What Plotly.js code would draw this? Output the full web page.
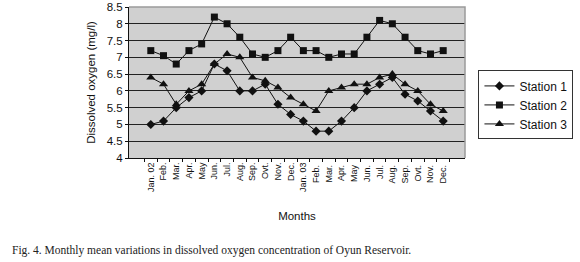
<!DOCTYPE html>
<html>
<head>
<meta charset="utf-8">
<script src="https://cdn.plot.ly/plotly-3.0.1.min.js"></script>
<style>html,body{margin:0;padding:0;background:#fff;}#chart{width:580px;height:262px;}</style>
</head>
<body>
<div id="chart"></div>
<script>
const months = ["Jan. 02","Feb.","Mar.","Apr.","May","Jun.","Jul.","Aug.","Sep.","Ovt.","Nov.","Dec.",
                "Jan. 03","Feb. ","Mar. ","Apr. ","May ","Jun. ","Jul. ","Aug. ","Sep. ","Ovt. ","Nov. ","Dec. "];
const station1 = [5.0,5.1,5.5,5.8,6.0,6.8,6.6,6.0,6.0,6.2,5.6,5.3,5.1,4.8,4.8,5.1,5.5,6.0,6.2,6.4,5.9,5.7,5.4,5.1];
const station2 = [7.2,7.05,6.8,7.2,7.4,8.2,8.0,7.6,7.1,7.0,7.2,7.6,7.2,7.2,7.0,7.1,7.1,7.6,8.1,8.0,7.6,7.2,7.1,7.2];
const station3 = [6.4,6.2,5.6,6.0,6.2,6.8,7.1,7.0,6.4,6.3,6.1,5.8,5.6,5.4,6.0,6.1,6.2,6.2,6.4,6.5,6.2,6.0,5.6,5.4];
const seriesNames = ["Station 1","Station 2","Station 3"];
const yTicks = [4,4.5,5,5.5,6,6.5,7,7.5,8,8.5];

const symbols = ["diamond","square","triangle-up"];
const sizes = [7,7,8];
const data = [station1, station2, station3].map((vals, i) => ({
  type: "scatter",
  mode: "lines+markers",
  name: seriesNames[i],
  x: months,
  y: vals,
  line: {color: "#111", width: 1},
  marker: {symbol: symbols[i], size: sizes[i], color: "#111"}
}));

const sans = "Liberation Sans, Arial, sans-serif";
const layout = {
  width: 580, height: 262,
  margin: {l: 129, r: 108, t: 7, b: 104},
  paper_bgcolor: "#fff",
  plot_bgcolor: "#d0d0d0",
  showlegend: true,
  legend: {
    x: 1.04, xanchor: "left", y: 0.58, yanchor: "top",
    bordercolor: "#333", borderwidth: 1, bgcolor: "#fff",
    font: {family: sans, size: 12, color: "#111"},
    itemwidth: 30, tracegroupgap: 0
  },
  xaxis: {
    type: "category",
    tickson: "boundaries",
    ticks: "outside", ticklen: 3, tickcolor: "#111",
    tickangle: -90,
    tickfont: {family: sans, size: 9, color: "#111"},
    showline: true, linecolor: "#111", linewidth: 1,
    showgrid: false,
    title: {text: "Months", font: {family: sans, size: 11.5, color: "#111"}, standoff: 20},
    automargin: false
  },
  yaxis: {
    range: [4, 8.5],
    tickvals: yTicks,
    ticks: "outside", ticklen: 3, tickcolor: "#111",
    tickfont: {family: sans, size: 11.5, color: "#111"},
    showline: true, linecolor: "#111", linewidth: 1,
    showgrid: true, gridcolor: "#222", gridwidth: 1,
    zeroline: false,
    title: {text: "Dissolved oxygen (mg/l)", font: {family: sans, size: 11.5, color: "#111"}, standoff: 8},
    automargin: false
  },
  shapes: [{
    type: "path", xref: "paper", yref: "paper",
    path: "M 0 1 L 1 1 L 1 0",
    line: {color: "#9a9a9a", width: 1.5}, layer: "above"
  }],
  annotations: [{
    xref: "paper", yref: "paper",
    x: -0.353, y: -0.61, xanchor: "left", yanchor: "middle",
    showarrow: false,
    text: "Fig. 4. Monthly mean variations in dissolved oxygen concentration of Oyun Reservoir.",
    font: {family: "Liberation Serif, Times New Roman, serif", size: 11.5, color: "#222"}
  }]
};

Plotly.newPlot("chart", data, layout, {displayModeBar: false, staticPlot: true});
</script>
</body>
</html>
